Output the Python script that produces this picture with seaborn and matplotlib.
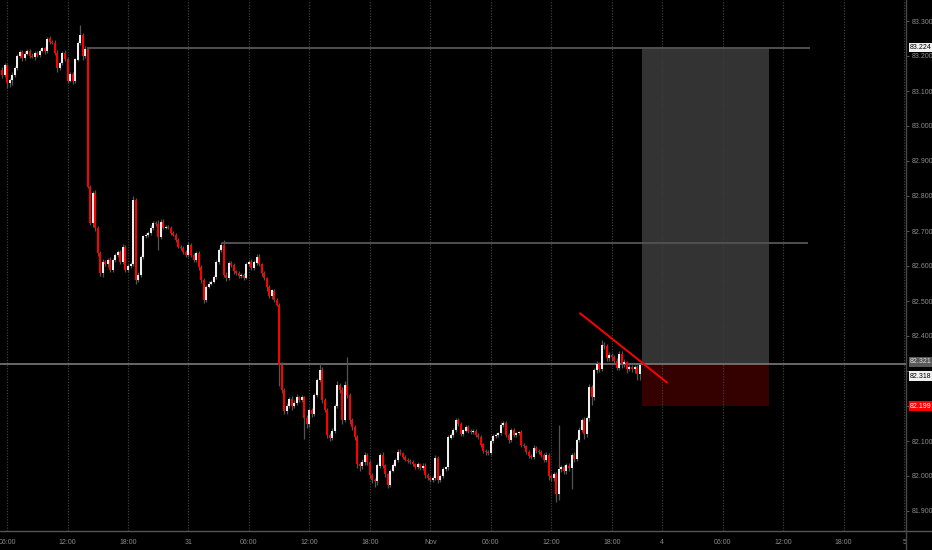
import numpy as np
import pandas as pd
import matplotlib
matplotlib.use("Agg")
import matplotlib.pyplot as plt
import seaborn as sns
from matplotlib.patches import Rectangle
from matplotlib.lines import Line2D

# ---------------- data (15-minute candles) ----------------
first_open = 83.160
closes = [
    83.146, 83.174, 83.123, 83.131, 83.146, 83.165, 83.200, 83.212, 83.195, 83.207,
    83.215, 83.200, 83.198, 83.210, 83.203, 83.215, 83.222, 83.215, 83.250, 83.240,
    83.238, 83.210, 83.165, 83.180, 83.208, 83.192, 83.130, 83.148, 83.130, 83.190,
    83.237, 83.260, 83.200, 83.220, 82.826, 82.722, 82.808, 82.708, 82.636, 82.579,
    82.612, 82.605, 82.617, 82.590, 82.617, 82.631, 82.641, 82.612, 82.655, 82.590,
    82.600, 82.605, 82.789, 82.560, 82.575, 82.625, 82.685, 82.688, 82.693, 82.708,
    82.722, 82.720, 82.684, 82.727, 82.710, 82.712, 82.710, 82.695, 82.690, 82.674,
    82.655, 82.650, 82.641, 82.631, 82.660, 82.631, 82.617, 82.637, 82.598, 82.560,
    82.503, 82.541, 82.550, 82.555, 82.569, 82.612, 82.646, 82.660, 82.574, 82.565,
    82.608, 82.603, 82.585, 82.580, 82.572, 82.575, 82.567, 82.605, 82.612, 82.595,
    82.610, 82.627, 82.605, 82.580, 82.565, 82.540, 82.515, 82.530, 82.503, 82.490,
    82.317, 82.246, 82.185, 82.200, 82.220, 82.200, 82.210, 82.225, 82.218, 82.225,
    82.165, 82.148, 82.188, 82.178, 82.231, 82.274, 82.303, 82.217, 82.190, 82.117,
    82.110, 82.130, 82.200, 82.260, 82.245, 82.160, 82.260, 82.230, 82.160, 82.140,
    82.112, 82.034, 82.030, 82.040, 82.060, 82.040, 82.003, 81.990, 81.985, 82.030,
    82.060, 82.030, 82.005, 81.975, 82.015, 82.030, 82.045, 82.070, 82.065, 82.055,
    82.047, 82.043, 82.040, 82.033, 82.025, 82.033, 82.022, 82.030, 82.003, 81.995,
    81.990, 81.995, 82.050, 81.990, 82.000, 82.020, 82.025, 82.110, 82.117, 82.131,
    82.160, 82.148, 82.120, 82.130, 82.140, 82.130, 82.125, 82.128, 82.117, 82.112,
    82.090, 82.072, 82.068, 82.066, 82.100, 82.115, 82.117, 82.122, 82.146, 82.150,
    82.117, 82.103, 82.131, 82.117, 82.122, 82.125, 82.089, 82.085, 82.070, 82.058,
    82.055, 82.080, 82.072, 82.068, 82.060, 82.046, 82.060, 82.000, 81.995, 82.005,
    81.950, 82.020, 82.025, 82.015, 82.030, 82.022, 82.060, 82.050, 82.103, 82.131,
    82.160, 82.120, 82.165, 82.255, 82.227, 82.303, 82.320, 82.305, 82.375, 82.370,
    82.336, 82.345, 82.340, 82.330, 82.310, 82.350, 82.320, 82.325, 82.305, 82.312,
    82.305, 82.312, 82.290, 82.318,
]
# upper / lower wick lengths beyond the body, in thousandths
wick_up = [
    8, 6, 4, 5, 8, 6, 5, 6, 5, 6,   5, 6, 8, 4, 5, 6, 5, 5, 4, 6,
    5, 8, 6, 4, 5, 8, 5, 6, 5, 4,   6, 29, 5, 8, 3, 5, 6, 10, 5, 6,
    8, 6, 5, 8, 5, 6, 5, 6, 8, 6,   6, 6, 10, 5, 8, 6, 5, 5, 6, 8,
    6, 6, 10, 8, 6, 5, 6, 5, 6, 5,  5, 6, 6, 5, 8, 6, 5, 6, 5, 5,
    6, 5, 6, 5, 6, 5, 6, 10, 14, 8, 5, 6, 5, 5, 5, 6, 5, 6, 5, 8,
    6, 8, 6, 5, 5, 5, 5, 5, 5, 5,   5, 8, 5, 8, 6, 8, 6, 8, 5, 6,
    5, 8, 6, 6, 5, 6, 20, 8, 5, 5,  6, 8, 6, 10, 6, 8, 10, 80, 6, 5,
    5, 6, 5, 8, 8, 5, 5, 5, 5, 8,   6, 8, 5, 5, 6, 6, 6, 6, 8, 5,
    5, 5, 5, 5, 5, 6, 5, 6, 6, 5,   5, 6, 10, 6, 6, 6, 5, 6, 6, 5,
    6, 5, 6, 5, 5, 5, 5, 5, 6, 5,   5, 5, 5, 5, 6, 5, 6, 5, 8, 6,
    8, 6, 6, 6, 5, 5, 6, 5, 5, 5,   5, 8, 5, 6, 5, 5, 8, 5, 6, 6,
    6, 125, 6, 6, 8, 6, 6, 8, 6, 8, 6, 8, 6, 8, 6, 6, 8, 6, 14, 8,
    6, 8, 6, 5, 6, 8, 6, 8, 5, 6,   5, 6, 6, 6,
]
wick_dn = [
    8, 6, 15, 12, 15, 6, 5, 6, 8, 6,  5, 6, 5, 8, 5, 5, 5, 8, 6, 5,
    5, 6, 10, 6, 5, 6, 8, 5, 10, 6,   5, 6, 10, 6, 3, 6, 10, 8, 6, 8,
    10, 6, 8, 6, 6, 5, 5, 6, 6, 8,    6, 6, 5, 10, 6, 6, 5, 5, 6, 5,
    5, 6, 38, 8, 5, 5, 5, 6, 5, 6,    5, 5, 8, 6, 6, 6, 5, 6, 8, 8,
    8, 6, 5, 5, 5, 6, 5, 5, 6, 8,     6, 5, 8, 6, 5, 5, 6, 5, 6, 5,
    5, 6, 5, 8, 6, 10, 6, 8, 6, 5,    60, 10, 8, 8, 6, 10, 6, 8, 6, 6,
    60, 10, 8, 8, 6, 5, 5, 8, 6, 8,   10, 6, 8, 6, 8, 10, 6, 6, 10, 8,
    8, 10, 15, 10, 8, 8, 8, 10, 15, 10, 6, 8, 8, 10, 6, 5, 5, 5, 6, 6,
    5, 5, 6, 5, 6, 6, 6, 6, 8, 6,     8, 6, 6, 10, 8, 6, 6, 8, 5, 5,
    6, 6, 6, 5, 5, 6, 6, 6, 5, 5,     6, 6, 8, 6, 6, 5, 5, 5, 6, 5,
    6, 8, 6, 6, 5, 5, 6, 6, 8, 6,     6, 6, 6, 6, 6, 6, 6, 10, 10, 8,
    25, 20, 8, 10, 8, 8, 60, 10, 8, 6, 6, 15, 8, 8, 25, 10, 10, 8, 6, 8,
    8, 8, 10, 8, 8, 6, 10, 8, 10, 6,  8, 10, 15, 15,
]

time_tick_pos = [2, 26, 50, 74, 98, 122, 146, 170, 194, 218, 242, 262, 286, 310, 334, 358]
time_tick_labels = ["06:00", "12:00", "18:00", "31", "06:00", "12:00", "18:00", "Nov",
                    "06:00", "12:00", "18:00", "4", "06:00", "12:00", "18:00", "5"]
price_ticks = [81.9, 82.0, 82.1, 82.2, 82.3, 82.4, 82.5, 82.6, 82.7, 82.8, 82.9, 83.0, 83.1, 83.2, 83.3]
# axis labels hidden behind the price tags in the reference
hidden_price_labels = [82.2, 82.3]

target_price = 83.224
resistance_price = 82.666
entry_price = 82.321
last_price = 82.318
stop_price = 82.199
trend_x = [229.4, 263.9]
trend_y = [82.465, 82.267]

# ---------------- build table ----------------
closes = np.array(closes)
opens = np.concatenate([[first_open], closes[:-1]])
wu = np.array(wick_up) / 1000.0
wd = np.array(wick_dn) / 1000.0
df = pd.DataFrame({
    "idx": np.arange(len(closes)),
    "open": opens,
    "close": closes,
})
df["high"] = np.maximum(df["open"], df["close"]) + wu
df["low"] = np.minimum(df["open"], df["close"]) - wd

# ---------------- style ----------------
BG = "#000000"
sns.set_style("dark", {"axes.facecolor": BG, "figure.facecolor": BG,
                       "axes.edgecolor": BG, "grid.color": "#3a3a3a"})
plt.rcParams["font.family"] = ["Liberation Sans", "DejaVu Sans"]

W, H = 932, 550
fig = plt.figure(figsize=(W / 100, H / 100), dpi=100, facecolor=BG)
ax = fig.add_axes([0, 19 / H, 906 / W, 531 / H])
ax.set_facecolor(BG)

ax.set_xlim(-0.79, 358.73)
ax.set_ylim(83.36 - 531 / 350, 83.36)

# position boxes
x0, x1 = 254.0, 304.4
ax.add_patch(Rectangle((x0, entry_price), x1 - x0, target_price - entry_price,
                       facecolor="#333333", edgecolor="none", zorder=0.3))
ax.add_patch(Rectangle((x0, stop_price), x1 - x0, entry_price - stop_price,
                       facecolor="#350000", edgecolor="none", zorder=0.3))

# level lines
ax.hlines(target_price, 33.9, 320.6, color="#505050", lw=1.4, zorder=1)
ax.hlines(resistance_price, 87.3, 320.0, color="#505050", lw=1.4, zorder=1)
ax.axhline(entry_price, color="#7a7a7a", lw=1.2, zorder=1.2)

# candles
up = (df["close"] >= df["open"]).to_numpy()
colors = np.where(up, "#efefef", "#ff0000")
ax.vlines(df["idx"], df["low"], df["high"], color="#555555", lw=0.9, zorder=2)
bottom = np.minimum(df["open"], df["close"])
height = np.maximum(np.abs(df["close"] - df["open"]), 0.0025)
ax.bar(df["idx"], height, bottom=bottom, width=0.8, color=colors, linewidth=0, zorder=3)

# trend line
sns.lineplot(x=trend_x, y=trend_y, ax=ax, color="#ff0000", lw=1.4, zorder=4)

# grid / ticks
ax.set_xticks(time_tick_pos)
ax.set_xticklabels(time_tick_labels)
ax.set_axisbelow(True)
ax.grid(True, axis="x", color="#3c3c3c", lw=0.9, linestyle=(0, (1, 1.2)))
ax.grid(False, axis="y")
ax.tick_params(axis="x", length=0, labelcolor="#8c8c8c", labelsize=5, pad=6)

ax.yaxis.tick_right()
ax.set_yticks(price_ticks)
ax.set_yticklabels(["" if any(abs(p - h) < 1e-9 for h in hidden_price_labels)
                    else f"{p:.3f}" for p in price_ticks])
ax.tick_params(axis="y", length=2.5, width=0.6, color="#666666",
               labelcolor="#8c8c8c", labelsize=5, pad=1.5)
for s in ax.spines.values():
    s.set_visible(False)

# axis lines
fig.add_artist(Line2D([0, 1], [19 / H, 19 / H], color="#555555", lw=1.0,
                      transform=fig.transFigure))
fig.add_artist(Line2D([906 / W, 906 / W], [0, 1], color="#484848", lw=1.0,
                      transform=fig.transFigure))


def price_tag(y, text, fc, tc, dy=0.0):
    ax.annotate(text, xy=(1, y), xycoords=("axes fraction", "data"),
                xytext=(3.0, dy), textcoords="offset points", ha="left", va="center",
                fontsize=5, color=tc, annotation_clip=False, zorder=10,
                bbox=dict(boxstyle="square,pad=0.2", fc=fc, ec="none"))


price_tag(target_price, f"{target_price:.3f}", "#f0f0f0", "#000000")
price_tag(entry_price, f"{entry_price:.3f}", "#5a5a5a", "#e0e0e0", dy=1.2)
price_tag(last_price, f"{last_price:.3f}", "#f0f0f0", "#000000", dy=-8.4)
price_tag(stop_price, f"{stop_price:.3f}", "#ff0000", "#ffffff")

fig.savefig("out.png", dpi=100, facecolor=BG)
